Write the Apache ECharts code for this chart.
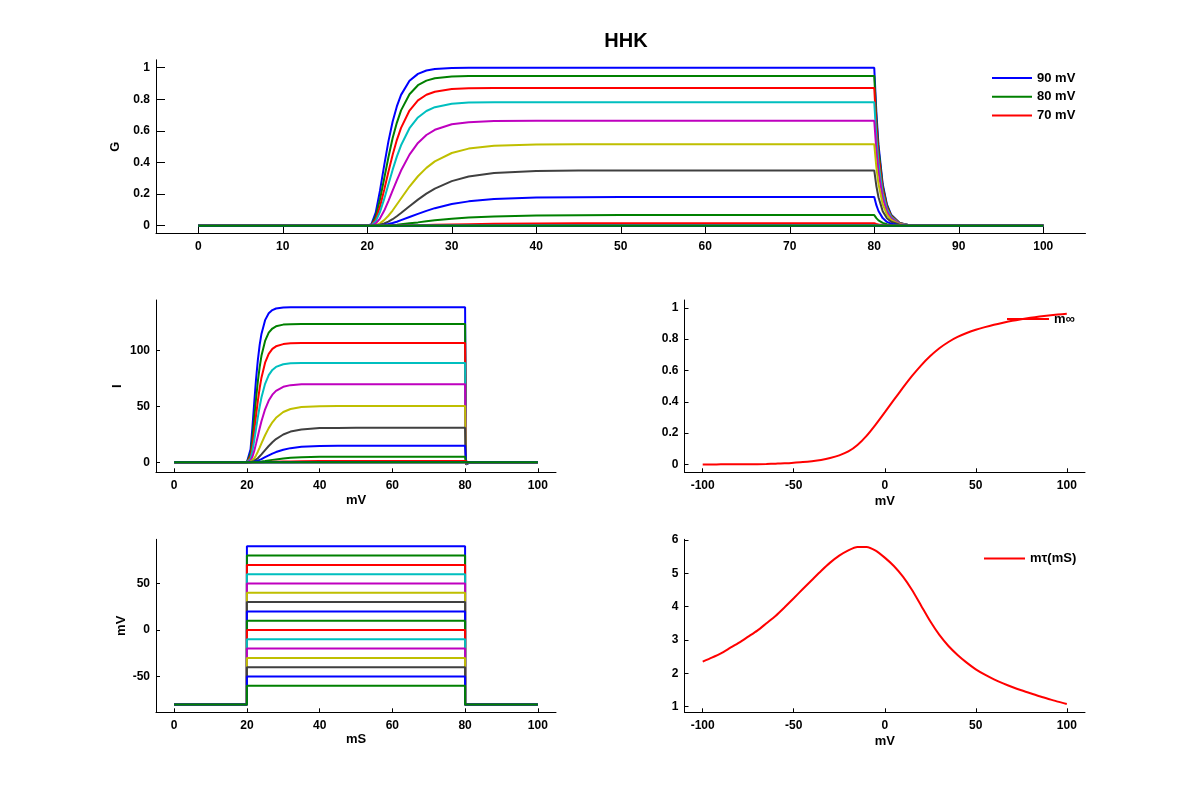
<!DOCTYPE html>
<html>
<head>
<meta charset="utf-8">
<script src="https://cdn.jsdelivr.net/npm/echarts@6/dist/echarts.min.js"></script>
<style>
html,body{margin:0;padding:0;background:#fff;}
#chart{width:1200px;height:800px;}
</style>
</head>
<body>
<div id="chart"></div>
<script>
// ---- Data ----
const STEP_MV = [90, 80, 70, 60, 50, 40, 30, 20, 10, 0, -10, -20, -30, -40, -50, -60];
const HOLD_MV = -80;
const STEP_T = [0, 20, 20, 80, 80, 100];
const STEP_ON = [0, 0, 1, 1, 0, 0];

const T_MS = [0, 20, 20.5, 21, 21.5, 22, 22.5, 23, 23.5, 24, 25, 26, 27, 28, 30, 32, 35, 40, 45, 50, 60, 70, 80, 80.25, 80.5, 81, 81.5, 82, 83, 84, 85, 100];

const G_P90 = [0,0,0.010,0.083,0.220,0.380,0.532,0.658,0.755,0.828,0.917,0.961,0.982,0.992,0.998,1,1,1,1,1,1,1,1,0.717,0.513,0.264,0.135,0.070,0.018,0.005,0.001,0];
const G_P80 = [0,0,0.007,0.058,0.164,0.297,0.432,0.553,0.651,0.730,0.832,0.889,0.918,0.933,0.944,0.947,0.948,0.948,0.948,0.948,0.948,0.948,0.948,0.680,0.486,0.250,0.128,0.066,0.017,0.005,0.001,0];
const G_P70 = [0,0,0.005,0.041,0.119,0.226,0.340,0.448,0.542,0.619,0.729,0.793,0.829,0.848,0.865,0.870,0.872,0.872,0.872,0.872,0.872,0.872,0.872,0.625,0.447,0.230,0.118,0.061,0.016,0.004,0.001,0];
const G_P60 = [0,0,0.003,0.028,0.086,0.168,0.261,0.353,0.437,0.509,0.617,0.685,0.726,0.750,0.772,0.779,0.781,0.782,0.782,0.782,0.782,0.782,0.782,0.561,0.401,0.206,0.106,0.055,0.014,0.004,0.001,0];
const G_P50 = [0,0,0.001,0.014,0.045,0.094,0.156,0.222,0.287,0.349,0.450,0.524,0.574,0.607,0.642,0.655,0.662,0.664,0.664,0.664,0.664,0.664,0.664,0.476,0.341,0.175,0.090,0.046,0.012,0.003,0.001,0];
const G_P40 = [0,0,0,0.004,0.015,0.035,0.063,0.096,0.134,0.172,0.248,0.313,0.366,0.407,0.460,0.488,0.506,0.514,0.516,0.516,0.516,0.516,0.516,0.370,0.265,0.136,0.070,0.036,0.009,0.003,0.001,0];
const G_P30 = [0,0,0,0.002,0.006,0.014,0.026,0.041,0.060,0.080,0.123,0.165,0.203,0.235,0.282,0.311,0.333,0.346,0.349,0.350,0.350,0.350,0.350,0.251,0.180,0.092,0.047,0.025,0.006,0.002,0,0];
const G_P20 = [0,0,0,0.001,0.002,0.006,0.011,0.017,0.025,0.035,0.055,0.075,0.094,0.111,0.137,0.154,0.169,0.178,0.180,0.181,0.181,0.181,0.181,0.130,0.093,0.048,0.024,0.013,0.003,0.001,0,0];
const G_P10 = [0,0,0,0,0,0.001,0.003,0.004,0.006,0.009,0.015,0.021,0.028,0.034,0.044,0.052,0.059,0.0645,0.066,0.067,0.067,0.067,0.067,0.048,0.034,0.018,0.009,0.005,0.001,0,0,0];
const G_P0  = [0,0,0,0,0,0,0.0003,0.0005,0.0008,0.0011,0.002,0.003,0.0043,0.0055,0.0079,0.0099,0.0122,0.0144,0.0153,0.0157,0.0159,0.016,0.016,0.0115,0.0082,0.0042,0.0022,0.0011,0.0003,0,0,0];
const G_M10 = [0,0,0,0,0,0,0,0.0001,0.0001,0.0002,0.0003,0.0005,0.0007,0.0009,0.0013,0.0016,0.002,0.0025,0.0027,0.0029,0.003,0.003,0.003,0.002,0.0015,0.0008,0.0004,0.0002,0,0,0,0];
const G_FLAT = [0,0,0,0,0,0,0,0,0,0,0,0,0,0,0,0,0,0,0,0,0,0,0,0,0,0,0,0,0,0,0,0];

const I_P90 = [0,0,1.4,11.5,30.5,52.6,73.7,91.1,104.6,114.7,127.0,133.1,136.0,137.4,138.2,138.5,138.5,138.5,138.5,138.5,138.5,138.5,138.5,-2.0,-1.4,-0.7,-0.4,-0.2,-0.05,0,0,0];
const I_P80 = [0,0,0.9,7.6,21.4,38.7,56.3,72.0,84.8,95.1,108.4,115.8,119.5,121.5,123.0,123.4,123.5,123.5,123.5,123.5,123.5,123.5,123.5,-1.8,-1.3,-0.66,-0.34,-0.18,-0.05,0,0,0];
const I_P70 = [0,0,0.6,5.0,14.6,27.6,41.5,54.7,66.1,75.6,89.0,96.8,101.3,103.6,105.6,106.3,106.5,106.5,106.5,106.5,106.5,106.5,106.5,-1.5,-1.1,-0.56,-0.29,-0.15,-0.04,0,0,0];
const I_P60 = [0,0,0.3,3.2,9.8,19.1,29.7,40.1,49.6,57.8,70.1,77.8,82.5,85.2,87.6,88.4,88.7,88.8,88.8,88.8,88.8,88.8,88.8,-1.25,-0.9,-0.46,-0.24,-0.12,-0.03,0,0,0];
const I_P50 = [0,0,0.1,1.4,4.7,9.9,16.4,23.3,30.2,36.6,47.3,55.1,60.4,63.8,67.4,68.9,69.6,69.8,69.8,69.8,69.8,69.8,69.8,-1.0,-0.7,-0.36,-0.19,-0.1,-0.02,0,0,0];
const I_P40 = [0,0,0,0.4,1.5,3.4,6.1,9.4,13.0,16.8,24.1,30.5,35.7,39.7,44.9,47.6,49.4,50.1,50.3,50.3,50.3,50.3,50.3,-0.7,-0.5,-0.26,-0.13,-0.07,-0.02,0,0,0];
const I_P30 = [0,0,0,0.1,0.5,1.2,2.3,3.6,5.3,7.0,10.8,14.5,17.8,20.7,24.8,27.4,29.3,30.5,30.7,30.8,30.8,30.8,30.8,-0.45,-0.32,-0.16,-0.08,-0.04,-0.01,0,0,0];
const I_P20 = [0,0,0,0,0.2,0.45,0.86,1.4,2.1,2.8,4.5,6.1,7.7,9.1,11.2,12.6,13.8,14.5,14.7,14.8,14.8,14.8,14.8,-0.23,-0.17,-0.09,-0.04,-0.02,0,0,0,0];
const I_P10 = [0,0,0,0,0.03,0.1,0.19,0.32,0.48,0.67,1.1,1.6,2.1,2.5,3.3,3.9,4.4,4.8,4.94,4.98,5.0,5.0,5.0,-0.08,-0.06,-0.03,-0.015,0,0,0,0,0];
const I_P0  = [0,0,0,0,0,0,0.02,0.04,0.06,0.08,0.15,0.22,0.32,0.41,0.59,0.74,0.91,1.08,1.15,1.18,1.19,1.2,1.2,-0.02,-0.01,0,0,0,0,0,0,0];
const I_M10 = [0,0,0,0,0,0,0,0.01,0.01,0.01,0.02,0.03,0.04,0.05,0.07,0.09,0.11,0.14,0.15,0.16,0.16,0.16,0.16,0,0,0,0,0,0,0,0,0];
const I_FLAT = [0,0,0,0,0,0,0,0,0,0,0,0,0,0,0,0,0,0,0,0,0,0,0,0,0,0,0,0,0,0,0,0];

const G_SERIES = [G_P90,G_P80,G_P70,G_P60,G_P50,G_P40,G_P30,G_P20,G_P10,G_P0,G_M10,G_FLAT,G_FLAT,G_FLAT,G_FLAT,G_FLAT];
const I_SERIES = [I_P90,I_P80,I_P70,I_P60,I_P50,I_P40,I_P30,I_P20,I_P10,I_P0,I_M10,I_FLAT,I_FLAT,I_FLAT,I_FLAT,I_FLAT];

const CURVE_V = [-100,-95,-90,-85,-80,-75,-70,-65,-60,-55,-50,-45,-40,-35,-30,-25,-20,-15,-10,-5,0,5,10,15,20,25,30,35,40,45,50,55,60,65,70,75,80,85,90,95,100];
const MINF = [0,0,0.001,0.001,0.001,0.002,0.002,0.003,0.005,0.007,0.011,0.015,0.021,0.029,0.041,0.058,0.083,0.125,0.183,0.255,0.333,0.412,0.49,0.565,0.633,0.692,0.742,0.782,0.814,0.839,0.86,0.877,0.892,0.905,0.917,0.927,0.936,0.944,0.951,0.957,0.962];
const TAU  = [2.35,2.47,2.6,2.76,2.92,3.1,3.28,3.5,3.72,3.98,4.25,4.53,4.8,5.07,5.32,5.53,5.69,5.79,5.79,5.68,5.47,5.22,4.9,4.5,4.03,3.56,3.15,2.82,2.55,2.32,2.12,1.96,1.82,1.7,1.59,1.49,1.4,1.31,1.23,1.15,1.08];

const LEGEND_G = ['90 mV', '80 mV', '70 mV'];
const X_TICKS_TOP = [0,10,20,30,40,50,60,70,80,90,100];
const X_TICKS_T = [0,20,40,60,80,100];
const X_TICKS_V = [-100,-50,0,50,100];
const Y_TICKS_G = [0,0.2,0.4,0.6,0.8,1];
const Y_TICKS_I = [0,50,100];
const Y_TICKS_STEP = [-50,0,50];
const Y_TICKS_TAU = [1,2,3,4,5,6];

// ---- Styling ----
const COLORS = ['#0000ff','#008000','#ff0000','#00bfbf','#bf00bf','#bfbf00','#404040'];
const FONT = 'Liberation Sans, Arial, sans-serif';
const tickFont = {fontFamily: FONT, fontSize: 12, fontWeight: 'bold', color: '#000'};
const nameFont = {fontFamily: FONT, fontSize: 13, fontWeight: 'bold', color: '#000'};

function axisX(gridIndex, min, max, ticks, tickLen, name, gap) {
  return {
    type: 'value', gridIndex, min, max,
    name: name || '', nameLocation: 'middle', nameGap: gap || 20, nameTextStyle: nameFont,
    axisLine: {show: true, onZero: false, lineStyle: {color: '#000', width: 1}},
    axisTick: {show: true, inside: true, length: tickLen, lineStyle: {color: '#000'}, customValues: ticks},
    axisLabel: {show: true, margin: 7, customValues: ticks, ...tickFont},
    splitLine: {show: false}
  };
}
function axisY(gridIndex, min, max, ticks, tickLen, name, gap) {
  return {
    type: 'value', gridIndex, min, max,
    name: name || '', nameLocation: 'middle', nameGap: gap, nameTextStyle: nameFont,
    axisLine: {show: true, onZero: false, lineStyle: {color: '#000', width: 1}},
    axisTick: {show: true, inside: true, length: tickLen, lineStyle: {color: '#000'}, customValues: ticks},
    axisLabel: {show: true, margin: 6, customValues: ticks, ...tickFont},
    splitLine: {show: false}
  };
}

const series = [];
STEP_MV.forEach((v, k) => {
  series.push({
    name: v + ' mV', type: 'line', xAxisIndex: 0, yAxisIndex: 0,
    data: T_MS.map((t, i) => [t, G_SERIES[k][i]]),
    showSymbol: false, symbol: 'none', silent: true,
    lineStyle: {width: 2, color: COLORS[k % 7]}, itemStyle: {color: COLORS[k % 7]}
  });
});
STEP_MV.forEach((v, k) => {
  series.push({
    name: 'I ' + v, type: 'line', xAxisIndex: 1, yAxisIndex: 1,
    data: T_MS.map((t, i) => [t, I_SERIES[k][i]]),
    showSymbol: false, symbol: 'none', silent: true,
    lineStyle: {width: 2, color: COLORS[k % 7]}
  });
});
STEP_MV.forEach((v, k) => {
  series.push({
    name: 'V ' + v, type: 'line', xAxisIndex: 3, yAxisIndex: 3,
    data: STEP_T.map((t, i) => [t, STEP_ON[i] ? v : HOLD_MV]),
    showSymbol: false, symbol: 'none', silent: true,
    lineStyle: {width: 2, color: COLORS[k % 7]}
  });
});
series.push({
  name: 'm\u221e', type: 'line', xAxisIndex: 2, yAxisIndex: 2,
  data: CURVE_V.map((v, i) => [v, MINF[i]]), smooth: 0.2,
  showSymbol: false, symbol: 'none', silent: true,
  lineStyle: {width: 2, color: '#ff0000'}, itemStyle: {color: '#ff0000'}
});
series.push({
  name: 'm\u03c4(mS)', type: 'line', xAxisIndex: 4, yAxisIndex: 4,
  data: CURVE_V.map((v, i) => [v, TAU[i]]), smooth: 0.2,
  showSymbol: false, symbol: 'none', silent: true,
  lineStyle: {width: 2, color: '#ff0000'}, itemStyle: {color: '#ff0000'}
});

const legendBase = {
  orient: 'vertical', icon: 'rect', itemHeight: 2, itemGap: 3.8, padding: 0,
  textStyle: {...nameFont, lineHeight: 15}, selectedMode: false
};

const option = {
  animation: false,
  backgroundColor: '#fff',
  title: {text: 'HHK', left: 621, top: 26, textAlign: 'center',
    textStyle: {fontFamily: FONT, fontSize: 20, fontWeight: 'bold', color: '#000'}},
  legend: [
    {...legendBase, data: LEGEND_G, left: 992, top: 70.5, itemWidth: 40},
    {...legendBase, data: ['m\u221e'], left: 1007, top: 311.5, itemWidth: 42},
    {...legendBase, data: ['m\u03c4(mS)'], left: 984, top: 551, itemWidth: 41}
  ],
  grid: [
    {left: 156, top: 59.8, width: 929.5, height: 173.8},
    {left: 156, top: 300, width: 400, height: 172.3},
    {left: 684.5, top: 300, width: 400.5, height: 172.3},
    {left: 156, top: 539.3, width: 400, height: 173},
    {left: 684.5, top: 539.3, width: 400.5, height: 173}
  ],
  xAxis: [
    axisX(0, -5, 105, X_TICKS_TOP, 9, ''),
    axisX(1, -5, 105, X_TICKS_T, 4, 'mV', 22),
    axisX(2, -110, 110, X_TICKS_V, 4, 'mV', 23),
    axisX(3, -5, 105, X_TICKS_T, 4, 'mS', 21),
    axisX(4, -110, 110, X_TICKS_V, 4, 'mV', 23)
  ],
  yAxis: [
    axisY(0, -0.05, 1.05, Y_TICKS_G, 9, 'G', 26),
    axisY(1, -9, 145, Y_TICKS_I, 4, 'I', 32),
    axisY(2, -0.05, 1.05, Y_TICKS_G, 4, '', 30),
    axisY(3, -88.5, 97.5, Y_TICKS_STEP, 4, 'mV', 28),
    axisY(4, 0.83, 6.02, Y_TICKS_TAU, 4, '', 30)
  ],
  series
};

const chart = echarts.init(document.getElementById('chart'), null, {renderer: 'canvas'});
chart.setOption(option);
</script>
</body>
</html>
